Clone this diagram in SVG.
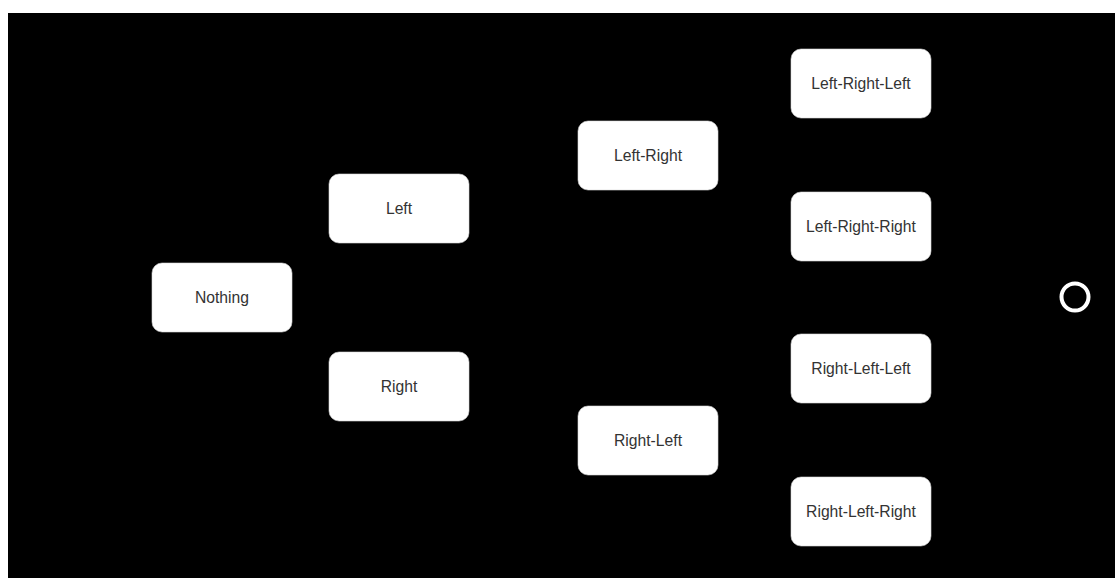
<svg xmlns="http://www.w3.org/2000/svg" width="1115" height="578" viewBox="0 0 1115 578">
  <style>
    .node rect { fill: #ffffff; stroke: #d9d9d9; stroke-width: 0.6; }
    .node text { font-family: "Liberation Sans", Arial, sans-serif; font-size: 15.7px; fill: #333333; text-anchor: middle; }
  </style>
  <rect x="0" y="0" width="1115" height="578" fill="#ffffff"/>
  <rect x="8" y="13" width="1107" height="565" fill="#000000"/>
  <g id="connectors"></g>
  <g id="nothing" class="node">
    <rect x="152" y="263" width="140" height="69" rx="10"/>
    <text x="222" y="302.5">Nothing</text>
  </g>
  <g id="left" class="node">
    <rect x="329" y="174" width="140" height="69" rx="10"/>
    <text x="399" y="213.5">Left</text>
  </g>
  <g id="right" class="node">
    <rect x="329" y="352" width="140" height="69" rx="10"/>
    <text x="399" y="391.5">Right</text>
  </g>
  <g id="left-right" class="node">
    <rect x="578" y="121" width="140" height="69" rx="10"/>
    <text x="648" y="160.5">Left-Right</text>
  </g>
  <g id="right-left" class="node">
    <rect x="578" y="406" width="140" height="69" rx="10"/>
    <text x="648" y="445.5">Right-Left</text>
  </g>
  <g id="left-right-left" class="node">
    <rect x="791" y="49" width="140" height="69" rx="10"/>
    <text x="861" y="88.5">Left-Right-Left</text>
  </g>
  <g id="left-right-right" class="node">
    <rect x="791" y="192" width="140" height="69" rx="10"/>
    <text x="861" y="231.5">Left-Right-Right</text>
  </g>
  <g id="right-left-left" class="node">
    <rect x="791" y="334" width="140" height="69" rx="10"/>
    <text x="861" y="373.5">Right-Left-Left</text>
  </g>
  <g id="right-left-right" class="node">
    <rect x="791" y="477" width="140" height="69" rx="10"/>
    <text x="861" y="516.5">Right-Left-Right</text>
  </g>
  <g id="final">
    <circle cx="1075" cy="297" r="13.5" fill="none" stroke="#ffffff" stroke-width="4"/>
  </g>
</svg>
